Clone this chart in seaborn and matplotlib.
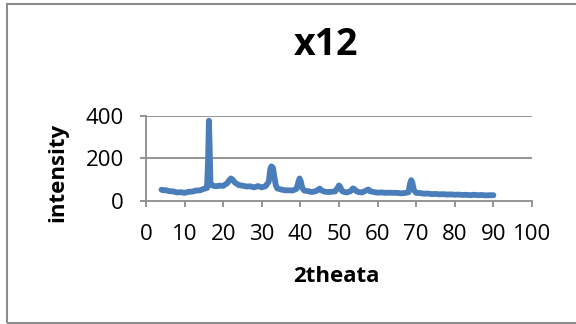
import matplotlib
matplotlib.use("Agg")
import matplotlib.pyplot as plt
import seaborn as sns
import pandas as pd
from matplotlib.patches import Rectangle

two_theta = [4, 4.5, 5, 6, 7, 8, 9, 10, 11, 12, 13, 14, 15, 15.8, 16.1, 16.3, 16.5, 16.7, 17, 18, 19, 20,
             21, 21.5, 22, 22.5, 23, 24, 25, 26, 27, 28, 29, 30, 31, 31.8, 32.2, 32.5, 32.9, 33.2, 33.6,
             34, 35, 36, 37, 38, 39, 39.5, 39.8, 40.1, 40.5, 41, 42, 43, 44, 44.6, 45, 45.4, 46, 47, 48,
             49, 49.7, 50, 50.3, 50.7, 51, 52, 53, 53.6, 54, 54.5, 55, 56, 57.2, 57.6, 58, 59, 60, 61, 62,
             63, 64, 65, 66, 67, 68, 68.4, 68.7, 69, 69.4, 70, 71, 72, 73, 74, 75, 76, 77, 78, 79, 80,
             81, 82, 83, 84, 85, 86, 87, 88, 89, 90]
intensity = [52, 49, 50, 45, 44, 39, 40, 37, 42, 43, 48, 49, 56, 60, 200, 378, 250, 80, 73, 68, 71, 70,
             82, 95, 105, 98, 86, 74, 71, 67, 68, 63, 69, 63, 69, 90, 150, 162, 155, 120, 75,
             58, 53, 49, 49, 48, 56, 90, 105, 92, 60, 48, 45, 41, 45, 52, 57, 50, 44, 41, 42,
             44, 62, 72, 66, 48, 43, 39, 45, 58, 55, 45, 41, 39, 50, 53, 45, 41, 38, 39, 37,
             38, 37, 37, 35, 36, 40, 80, 97, 85, 50, 37, 36, 33, 34, 31, 32, 30, 31, 29, 30, 28,
             29, 27, 28, 26, 28, 26, 27, 25, 26, 26]
x_ticks = [0, 10, 20, 30, 40, 50, 60, 70, 80, 90, 100]
y_ticks = [0, 200, 400]

df = pd.DataFrame({"2theata": two_theta, "intensity": intensity})

sns.set_theme(style="white")
plt.rcParams["font.family"] = ["Open Sans", "DejaVu Sans"]
plt.rcParams["text.color"] = "black"

W, H = 576, 324
fig = plt.figure(figsize=(W / 100, H / 100), dpi=100)
fig.patch.set_facecolor("white")
ax = fig.add_axes([146 / W, 1 - 200.7 / H, (532 - 146) / W, (200.7 - 116) / H])

sns.lineplot(data=df, x="2theata", y="intensity", ax=ax, color="#4A7EBB", linewidth=4.2,
             solid_capstyle="round", solid_joinstyle="round", sort=False)

ax.set_xlim(0, 100)
ax.set_ylim(0, 400)
ax.set_xticks(x_ticks)
ax.set_yticks(y_ticks)
ax.set_xticklabels([str(t) for t in x_ticks])
ax.set_yticklabels([str(t) for t in y_ticks])
ax.set_xlabel("")
ax.set_ylabel("")

grid_c = "#8C8C8C"
for v in y_ticks[1:]:
    ax.axhline(v, color=grid_c, lw=1.3, zorder=0)
for s in ["top", "right"]:
    ax.spines[s].set_visible(False)
for s in ["left", "bottom"]:
    ax.spines[s].set_color(grid_c)
    ax.spines[s].set_linewidth(1.3)
ax.tick_params(axis="x", direction="out", length=4, width=1.3, color=grid_c, pad=13,
               labelsize=16, labelcolor="black", bottom=True)
ax.tick_params(axis="y", direction="out", length=4, width=1.3, color=grid_c, pad=12,
               labelsize=16, labelcolor="black", left=True)

fig.text(326 / W, 1 - 45 / H, "x12", ha="center", va="center", fontsize=27, fontweight="bold",
         color="black")
fig.text(336 / W, 1 - 277 / H, "2theata", ha="center", va="center", fontsize=16, fontweight="bold",
         color="black")
fig.text(58 / W, 1 - 172 / H, "intensity", ha="center", va="center", rotation=90,
         fontsize=16, fontweight="bold", color="black")

fig.patches.append(Rectangle((7 / W, 1 - 323 / H), 1.2, (323 - 4) / H, transform=fig.transFigure,
                             fill=False, edgecolor="#8C8C8C", linewidth=1.5))

fig.savefig("out.png", dpi=100)
